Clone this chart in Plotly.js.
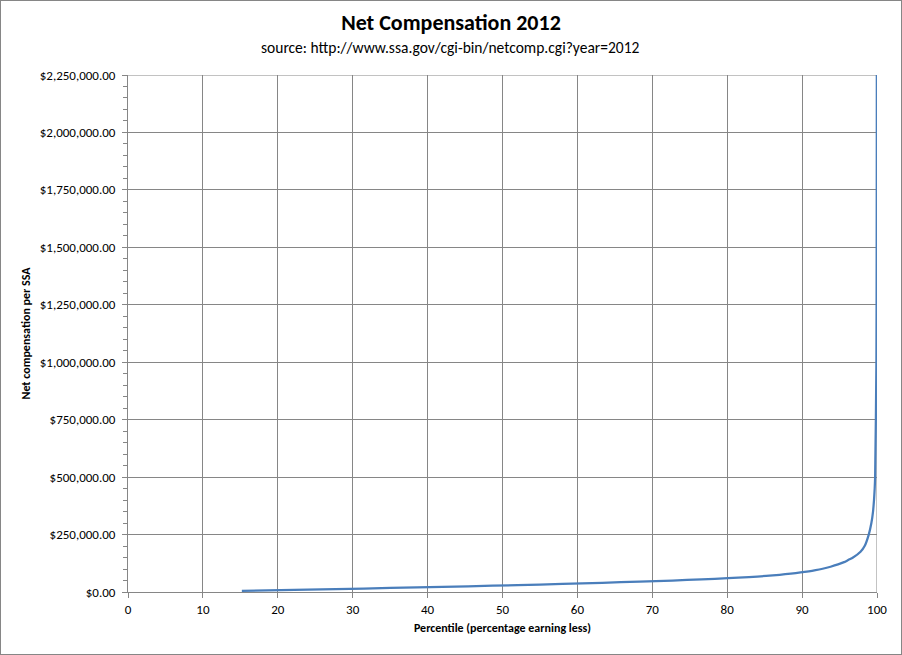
<!DOCTYPE html>
<html>
<head>
<meta charset="utf-8">
<script src="https://cdn.plot.ly/plotly-3.0.1.min.js"></script>
<style>
body{margin:0;padding:0;background:#fff;}
#wrap{position:relative;width:902px;height:655px;}
#frame{position:absolute;left:0;top:0;width:900px;height:653px;border:1px solid #868686;pointer-events:none;}
</style>
</head>
<body>
<div id="wrap"><div id="chart" style="width:902px;height:655px;"></div><div id="frame"></div></div>
<script>
// Cumulative percentile (percentage earning less) vs net compensation (upper bound of interval)
const percentile = [15.2, 24.0, 31.5, 38.6, 45.4, 52.0, 58.0, 63.3, 68.3, 72.7, 76.6, 80.1, 82.9, 85.2, 87.0, 88.5, 89.8, 90.9, 91.8, 92.6, 93.8, 94.8, 95.6, 96.2, 96.8, 97.8, 98.35, 98.9, 99.25, 99.47, 99.6, 99.69, 99.75, 99.92, 99.955, 99.972, 99.981];
const netComp = [5000, 10000, 15000, 20000, 25000, 30000, 35000, 40000, 45000, 50000, 55000, 60000, 65000, 70000, 75000, 80000, 85000, 90000, 95000, 100000, 110000, 120000, 130000, 140000, 150000, 175000, 200000, 250000, 300000, 350000, 400000, 450000, 500000, 1000000, 1500000, 2000000, 2500000];

const font = "Calibri, Carlito, 'Liberation Sans Narrow', 'DejaVu Sans Condensed', 'Open Sans', sans-serif";

const trace = {
  x: percentile,
  y: netComp,
  type: 'scatter',
  mode: 'lines',
  line: {color: '#4a7ebb', width: 2.25, shape: 'spline', smoothing: 0.6},
  hoverinfo: 'x+y'
};

const layout = {
  width: 902, height: 655,
  margin: {l: 128, r: 25, t: 75, b: 63},
  paper_bgcolor: '#ffffff', plot_bgcolor: '#ffffff',
  showlegend: false,
  font: {family: font, color: '#000', size: 12},
  title: {
    text: '<b>Net Compensation 2012</b>',
    font: {family: font, size: 22, color: '#000'},
    x: 0.5, xref: 'container', xanchor: 'center', y: 0.966, yref: 'container', yanchor: 'middle'
  },
  annotations: [
    {text: 'source: http://www.ssa.gov/cgi-bin/netcomp.cgi?year=2012', xref: 'paper', yref: 'paper',
     x: 0.4312, y: 1, xanchor: 'center', yanchor: 'middle', yshift: 28, showarrow: false,
     font: {family: font, size: 15.5, color: '#000'}}
  ],
  xaxis: {
    range: [0, 100], dtick: 10, tick0: 0,
    showgrid: true, gridcolor: '#868686', gridwidth: 1,
    showline: true, linecolor: '#868686', linewidth: 1,
    ticks: 'outside', ticklen: 5, tickcolor: '#868686',
    zeroline: false,
    tickfont: {family: font, size: 13, color: '#000'},
    title: {text: '<b>Percentile (percentage earning less)</b>', font: {family: font, size: 12, color: '#000'}, standoff: 8}
  },
  yaxis: {
    range: [0, 2250000], dtick: 250000, tick0: 0,
    tickformat: '$,.2f',
    showgrid: true, gridcolor: '#868686', gridwidth: 1,
    showline: true, linecolor: '#868686', linewidth: 1,
    ticks: 'outside', ticklen: 5, tickcolor: '#868686',
    ticklabelstandoff: 4,
    minor: {dtick: 50000, ticks: 'outside', ticklen: 4, tickcolor: '#868686', showgrid: false},
    zeroline: false,
    tickfont: {family: font, size: 13, color: '#000'},
    title: {text: '<b>Net compensation per SSA</b>', font: {family: font, size: 12, color: '#000'}, standoff: 6}
  },
  shapes: [
    {type: 'line', xref: 'x', yref: 'paper', x0: 100, x1: 100, y0: 0, y1: 1, line: {color: '#868686', width: 1}, layer: 'below'},
    {type: 'line', xref: 'paper', yref: 'y', x0: 0, x1: 1, y0: 2250000, y1: 2250000, line: {color: '#868686', width: 1}, layer: 'below'}
  ]
};

Plotly.newPlot('chart', [trace], layout, {displayModeBar: false, staticPlot: true});
</script>
</body>
</html>
